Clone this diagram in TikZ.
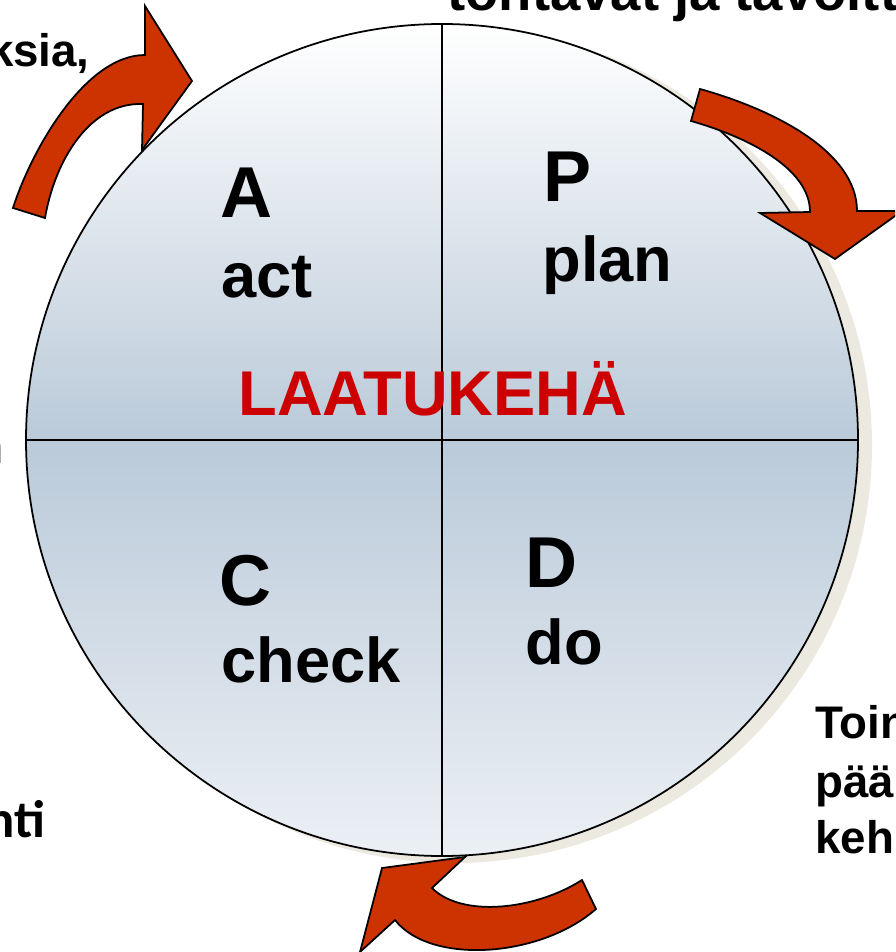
\documentclass[tikz,border=0pt]{standalone}
\usepackage{fontspec}
\setmainfont{Liberation Sans}
\newfontfamily\carlito{Carlito}
\usetikzlibrary{positioning}
\definecolor{arrowred}{RGB}{204,51,0}
\definecolor{titlered}{RGB}{204,0,0}
\definecolor{circlemid}{RGB}{186,202,217}
\definecolor{circlebot}{RGB}{236,240,245}
\definecolor{shadowbeige}{RGB}{236,234,224}
\definecolor{fadegray}{RGB}{80,80,80}
\pgfdeclareverticalshading{laatushade}{100bp}{color(0bp)=(circlebot); color(25bp)=(circlebot);
  color(50bp)=(circlemid); color(75bp)=(white); color(100bp)=(white)}
\tikzset{
  quadletter/.style={anchor=base west, inner sep=0pt, font=\bfseries\fontsize{41}{45}\selectfont},
  quadword/.style  ={anchor=base west, inner sep=0pt, font=\bfseries\fontsize{36}{40}\selectfont},
  cycletitle/.style={anchor=base west, inner sep=0pt, text=titlered,
                     font=\bfseries\fontsize{36}{40}\selectfont},
  edgetxt/.style   ={anchor=base west, inner sep=0pt, font=\bfseries\fontsize{26}{33}\selectfont},
  cutTxt/.style    ={anchor=base west, inner sep=0pt, font=\carlito\bfseries\fontsize{30}{33}\selectfont},
  cyclearrow/.style={draw=black, line width=1pt, fill=arrowred, line join=miter},
  divider/.style   ={line width=1pt}
}

\begin{document}
\begin{tikzpicture}[x=0.02cm, y=-0.02cm]
\useasboundingbox (0,0) rectangle (895,952);
\clip (0,0) rectangle (895,952);
\coordinate (ctr) at (442,440);

% the circle with its shadow
\fill[shadowbeige] ([shift={(12,5)}]ctr) circle (418);
\shade[shading=laatushade] (ctr) circle (416);
\draw[line width=1pt] (ctr) circle (416);
\draw[divider] ([shift={(0,-416)}]ctr) -- ([shift={(0,416)}]ctr);
\draw[divider] ([shift={(-416,0)}]ctr) -- ([shift={(416,0)}]ctr);

% quadrants
\node[quadletter] (aL) at (220,218) {A};
\node[quadword]   (aW) at (221,298) {act};
\node[quadletter] (pL) at (543,202) {P};
\node[quadword]   (pW) at (542,282) {plan};
\node[quadletter] (cL) at (219,605) {C};
\node[quadword]   (cW) at (221,682) {check};
\node[quadletter] (dL) at (525,587) {D};
\node[quadword]   (dW) at (525,664) {do};
\node[cycletitle] (title) at (238,415) {LAATUKEHÄ};

% texts cut by the frame
\node[edgetxt, font=\bfseries\fontsize{31}{35}\selectfont] (topTxt) at (447,11) {tontavat ja tavoitteet};
\node[edgetxt, anchor=base east] (ksia) at (90,67) {ksia,};
\node[edgetxt] (toin) at (815,738) {Toin};
\node[edgetxt] (paa) at (815,797) {pää};
\node[edgetxt] (keh) at (815,853) {keh};
\node[cutTxt, anchor=base east] (nti) at (46,837) {nti};
\node[cutTxt, anchor=base east, text=fadegray, font=\carlito\fontsize{30}{33}\selectfont] (nFrag) at (5,463) {n};

% curved arrows
\draw[cyclearrow] (13,208) .. controls (31,151) and (85,55) .. (145,55) -- (145,6) -- (192,81)
  -- (142,150) -- (143,104) .. controls (90,102) and (55,160) .. (45,218) -- cycle;
\draw[cyclearrow] (700,89) .. controls (772,109) and (857,151) .. (857,211) -- (902,211) -- (835,259)
  -- (760,213) -- (810,212) .. controls (810,167) and (744,136) .. (691,121) -- cycle;
\draw[cyclearrow] (582,880) .. controls (535,910) and (462,918) .. (432,888) -- (465,857) -- (382,868)
  -- (360,952) -- (395,920) .. controls (430,965) and (540,958) .. (596,909) -- cycle;
\end{tikzpicture}
\end{document}
